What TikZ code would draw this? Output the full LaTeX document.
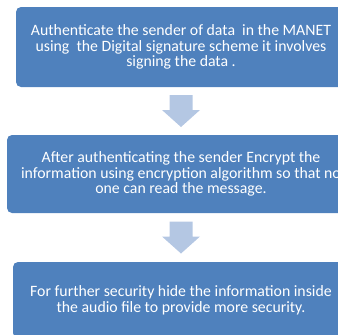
\documentclass[tikz,border=0pt]{standalone}
\usepackage{fontspec}
\setmainfont{Carlito}
\usetikzlibrary{calc}
\definecolor{boxblue}{HTML}{4F81BD}
\definecolor{arrowblue}{HTML}{B4C7E3}
\tikzset{
  stepbox/.style={fill=boxblue, draw=none, rounded corners=5pt, text=white, align=center,
    font=\fontsize{15.8}{15.8}\selectfont, inner sep=0pt},
  blockarrow/.style={fill=arrowblue, draw=none}
}
\newcommand{\downblockarrow}[1]{%
  \fill[blockarrow] ($(#1)+(-11.5,-16)$) -- ($(#1)+(11.5,-16)$) -- ($(#1)+(11.5,-1)$)
    -- ($(#1)+(19,-1)$) -- ($(#1)+(0,16)$) -- ($(#1)+(-19,-1)$) -- ($(#1)+(-11.5,-1)$) -- cycle;}
\begin{document}
\begin{tikzpicture}[x=1pt,y=-1pt]
\useasboundingbox (0,0) rectangle (338,335);
\clip (0,0) rectangle (338,335);
\node[stepbox, minimum width=330pt, minimum height=80pt] (b1) at (181,47)
  {Authenticate the sender of data~ in the MANET\\using~ the Digital signature scheme it involves\\signing the data .};
\node[stepbox, minimum width=348pt, minimum height=78pt] (b2) at (181,174)
  {After authenticating the sender Encrypt the\\information using encryption algorithm so that no\\one can read the message.};
\node[stepbox, minimum width=336pt, minimum height=76pt] (b3) at (181,300)
  {For further security hide the information inside\\the audio file to provide more security.};
\coordinate (a1) at ($(b1.south)!0.5!(b2.north)$);
\coordinate (a2) at ($(b2.south)!0.5!(b3.north)$);
\downblockarrow{a1}
\downblockarrow{a2}
\end{tikzpicture}
\end{document}
